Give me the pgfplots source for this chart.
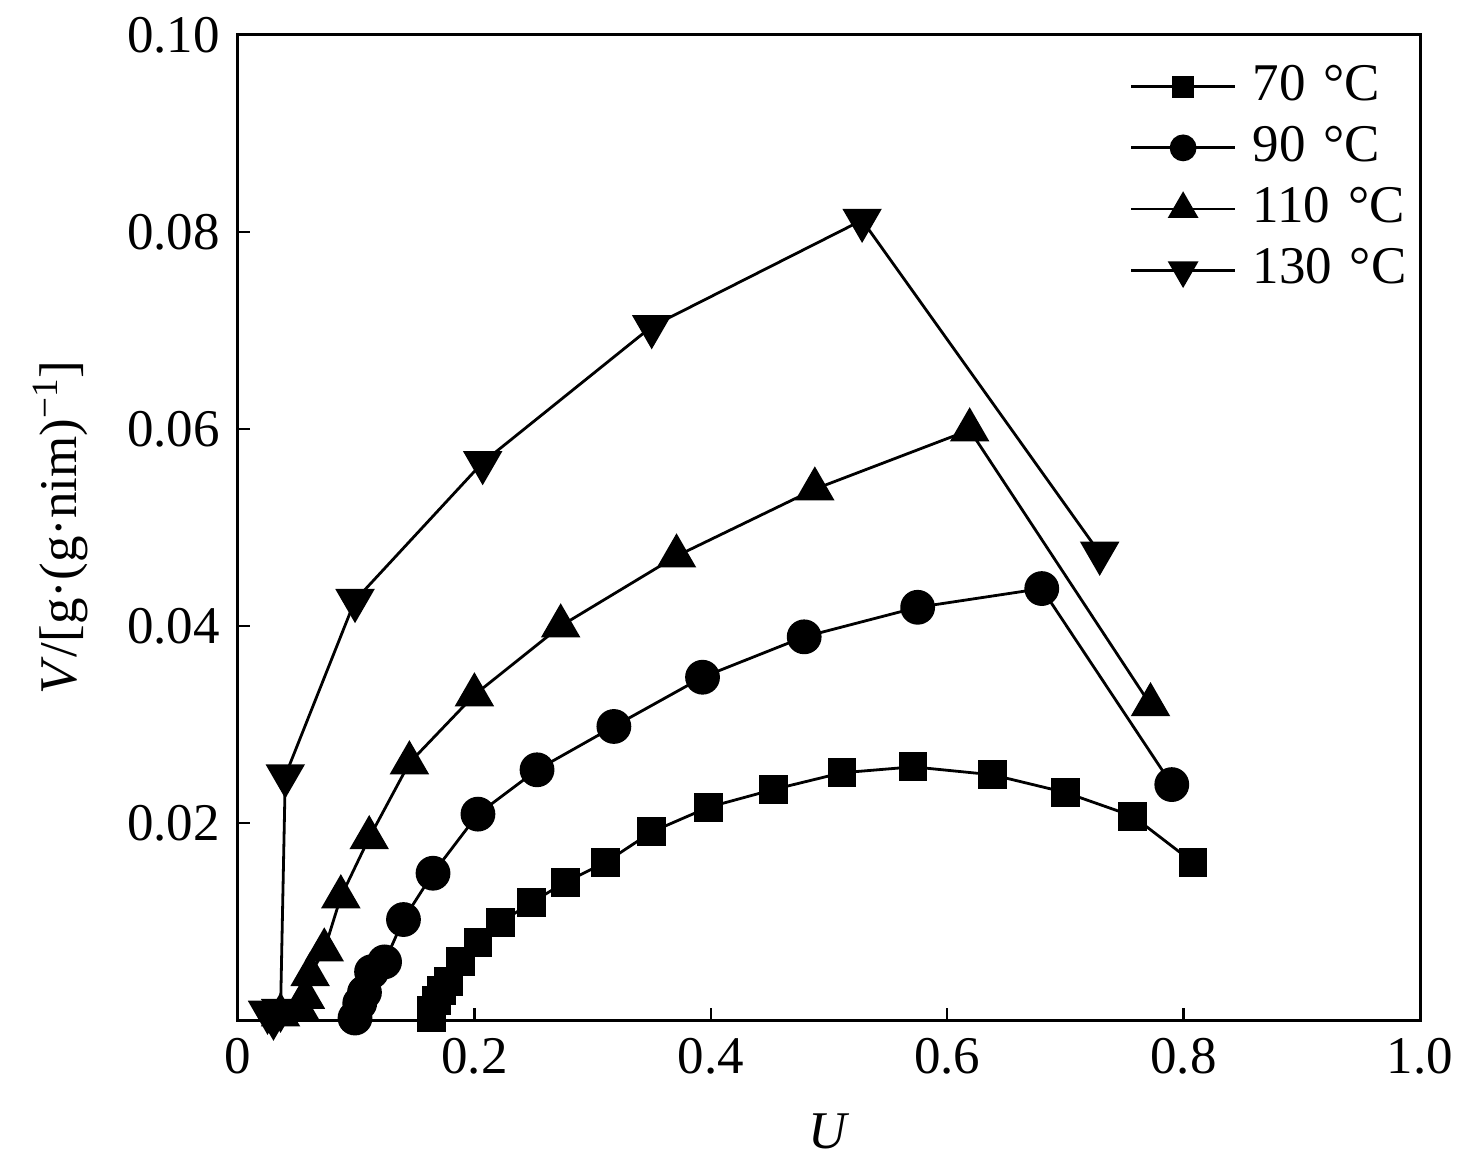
\documentclass[border=0pt]{standalone}
\usepackage{fontspec}
\setmainfont{Liberation Serif}
\usepackage{pgfplots}
\pgfplotsset{compat=1.18}
\begin{document}
\fontsize{26.5}{30}\selectfont
\begin{tikzpicture}
\begin{axis}[
  name=ax,
  scale only axis,
  width=591pt, height=492.5pt,
  xmin=0, xmax=1, ymin=0, ymax=0.1,
  xtick={0,0.2,0.4,0.6,0.8,1.0},
  xticklabels={0,0.2,0.4,0.6,0.8,1.0},
  ytick={0.02,0.04,0.06,0.08,0.1},
  scaled y ticks=false,
  yticklabel style={/pgf/number format/fixed,/pgf/number format/fixed zerofill,/pgf/number format/precision=2},
  /pgf/number format/assume math mode=true,
  tick label style={font=\fontsize{26.5}{30}\selectfont},
  label style={font=\fontsize{26.5}{30}\selectfont},
  xtick pos=bottom, ytick pos=left,
  tick align=inside,
  major tick length=6pt,
  axis line style={line width=1.5pt},
  every tick/.style={line width=1.2pt,black},
  xlabel={\textit{U}},
  ylabel={\textit{V}/[g·(g·nim)\textsuperscript{−1}]},
  xlabel style={yshift=-2pt},
  ylabel style={yshift=2pt},
  legend style={draw=none, fill=none, at={(0.749,0.978)}, anchor=north west,
     font=\fontsize{26.5}{30}\selectfont, row sep=5pt},
  legend cell align=left,
  legend image code/.code={
    \draw[#1,mark repeat=2,mark phase=2,every mark/.append style={scale=0.75}] plot coordinates {(0pt,0pt) (26pt,0pt) (52pt,0pt)};
  },
  every axis plot/.append style={line width=1.4pt, black, mark options={solid, fill=black}},
]
\addplot[mark=square*, mark size=6.5pt] coordinates {
(0.164,0.0002)(0.164,0.0010)(0.168,0.0020)(0.172,0.0030)(0.178,0.0039)
(0.188,0.0059)(0.203,0.0079)(0.222,0.0099)(0.248,0.0119)(0.277,0.0140)
(0.311,0.0160)(0.350,0.0191)(0.398,0.0216)(0.453,0.0234)(0.511,0.0251)
(0.571,0.0257)(0.638,0.0249)(0.700,0.0231)(0.757,0.0207)(0.808,0.0160)};
\addlegendentry{\hspace{6pt}70\hspace{9pt}°C}
\addplot[mark=*, mark size=8pt] coordinates {
(0.099,0.0002)(0.103,0.0017)(0.107,0.0028)(0.113,0.0049)(0.124,0.0059)
(0.140,0.0102)(0.165,0.0149)(0.203,0.0209)(0.253,0.0254)(0.318,0.0298)
(0.393,0.0348)(0.479,0.0389)(0.575,0.0419)(0.680,0.0438)(0.790,0.0239)};
\addlegendentry{\hspace{6pt}90\hspace{9pt}°C}
\addplot[mark=triangle*, mark size=10pt] coordinates {
(0.036,0.0005)(0.052,0.0012)(0.057,0.0023)(0.061,0.0046)(0.073,0.0071)
(0.087,0.0125)(0.111,0.0185)(0.145,0.0261)(0.200,0.0330)(0.273,0.0400)
(0.371,0.0471)(0.488,0.0539)(0.619,0.0599)(0.772,0.0320)};
\addlegendentry{\hspace{6pt}110\hspace{9pt}°C}
\addplot[mark=triangle*, mark options={rotate=180}, mark size=10pt] coordinates {
(0.025,0.0008)(0.030,0.0002)(0.036,0.0010)(0.040,0.0248)(0.099,0.0426)
(0.207,0.0566)(0.350,0.0704)(0.528,0.0812)(0.729,0.0474)};
\addlegendentry{\hspace{6pt}130\hspace{9pt}°C}
\end{axis}
\pgfresetboundingbox
\path ([xshift=-119pt,yshift=-73.5pt]ax.south west) rectangle ([xshift=28pt,yshift=17.5pt]ax.north east);
\end{tikzpicture}
\end{document}
